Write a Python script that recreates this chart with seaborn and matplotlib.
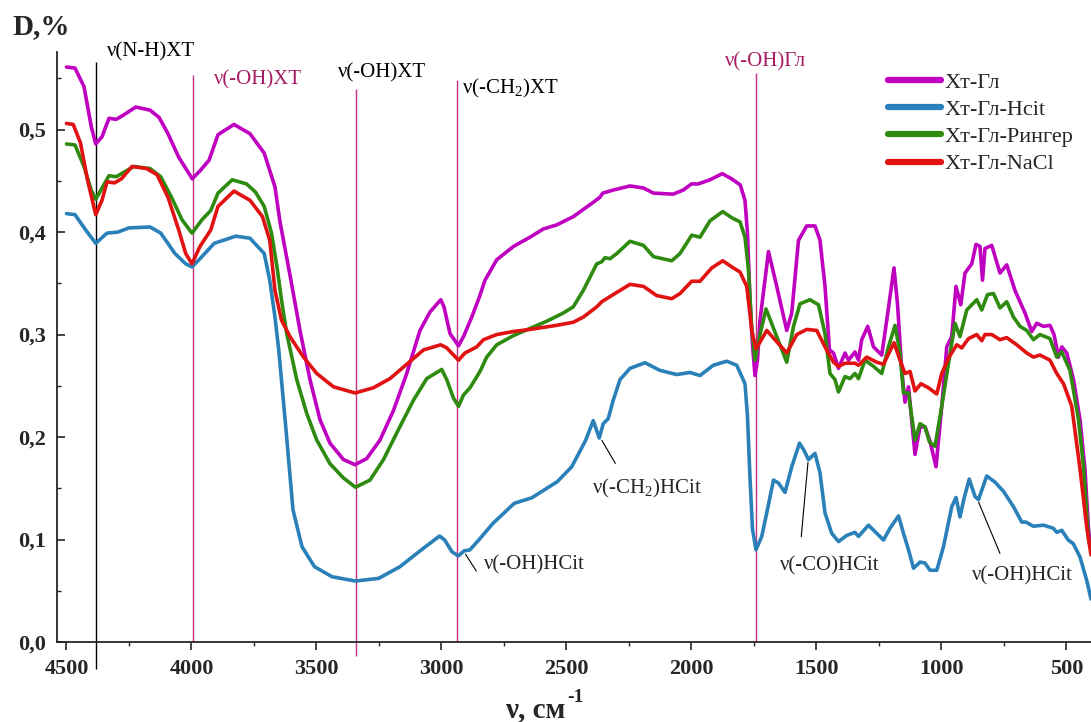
import matplotlib
matplotlib.use('Agg')
import matplotlib.pyplot as plt
import seaborn as sns
import pandas as pd


# Хт-Гл (magenta)
gl_nu = [4500, 4466, 4430, 4401, 4383, 4358, 4330, 4301, 4273, 4223, 4166, 4130, 4094, 4051, 3997,
         3965, 3930, 3894, 3830, 3766, 3709, 3666, 3646, 3606, 3566, 3526, 3486, 3446, 3392, 3346,
         3299, 3246, 3192, 3139, 3086, 3046, 3003, 2990, 2966, 2932, 2912, 2879, 2848, 2826, 2779,
         2712, 2646, 2593, 2539, 2473, 2393, 2366, 2355, 2313, 2246, 2192, 2152, 2073, 2033, 2000,
         1973, 1926, 1877, 1840, 1805, 1786, 1776, 1766, 1756, 1746, 1736, 1726, 1692, 1659, 1619,
         1599, 1572, 1539, 1506, 1486, 1466, 1448, 1432, 1412, 1386, 1372, 1346, 1332, 1319, 1295,
         1272, 1239, 1219, 1190, 1176, 1159, 1146, 1132, 1106, 1086, 1066, 1046, 1022, 999, 979,
         959, 942, 923, 906, 879, 862, 846, 836, 826, 799, 766, 739, 706, 686, 666, 639, 619, 592,
         566, 550, 532, 519, 499, 472, 446, 426, 412, 402]
gl_d = [0.561, 0.560, 0.542, 0.503, 0.486, 0.493, 0.511, 0.510, 0.514, 0.522, 0.519, 0.512, 0.496,
        0.473, 0.452, 0.460, 0.470, 0.495, 0.505, 0.496, 0.477, 0.444, 0.410, 0.358, 0.304, 0.256,
        0.217, 0.194, 0.178, 0.173, 0.179, 0.197, 0.226, 0.262, 0.304, 0.322, 0.334, 0.327, 0.301,
        0.289, 0.298, 0.317, 0.337, 0.353, 0.373, 0.386, 0.395, 0.403, 0.407, 0.415, 0.429, 0.434,
        0.438, 0.441, 0.445, 0.443, 0.438, 0.437, 0.441, 0.447, 0.447, 0.451, 0.457, 0.452, 0.446,
        0.431, 0.399, 0.334, 0.290, 0.260, 0.275, 0.314, 0.381, 0.347, 0.304, 0.321, 0.392, 0.406,
        0.406, 0.392, 0.347, 0.285, 0.282, 0.267, 0.282, 0.275, 0.283, 0.275, 0.295, 0.308, 0.288,
        0.280, 0.314, 0.365, 0.330, 0.265, 0.234, 0.249, 0.183, 0.210, 0.210, 0.196, 0.171, 0.230,
        0.288, 0.298, 0.347, 0.329, 0.360, 0.369, 0.388, 0.386, 0.353, 0.384, 0.387, 0.360, 0.368,
        0.343, 0.332, 0.321, 0.303, 0.311, 0.308, 0.309, 0.300, 0.278, 0.288, 0.282, 0.256, 0.217,
        0.168, 0.110, 0.090]

# Хт-Гл-Hcit (blue)
hcit_nu = [4500, 4466, 4423, 4383, 4338, 4294, 4251, 4166, 4123, 4066, 4023, 3998, 3966, 3909, 3823,
           3766, 3709, 3687, 3666, 3651, 3623, 3594, 3558, 3508, 3438, 3344, 3251, 3166, 3080, 3008,
           2987, 2958, 2933, 2909, 2887, 2851, 2794, 2709, 2638, 2537, 2479, 2423, 2393, 2369, 2353,
           2333, 2313, 2286, 2246, 2186, 2126, 2059, 2006, 1966, 1913, 1859, 1819, 1786, 1776, 1766,
           1756, 1742, 1719, 1699, 1672, 1652, 1626, 1599, 1568, 1550, 1532, 1506, 1486, 1466, 1439,
           1412, 1379, 1346, 1332, 1292, 1259, 1232, 1206, 1172, 1152, 1132, 1112, 1086, 1066, 1046,
           1019, 992, 959, 942, 926, 910, 889, 866, 852, 819, 786, 752, 712, 679, 662, 633, 592, 553,
           539, 519, 493, 473, 446, 419, 402]
hcit_d = [0.418, 0.417, 0.402, 0.389, 0.399, 0.400, 0.404, 0.405, 0.399, 0.379, 0.369, 0.366, 0.374,
          0.389, 0.396, 0.394, 0.379, 0.353, 0.317, 0.285, 0.210, 0.129, 0.093, 0.0735, 0.0637,
          0.0595, 0.0621, 0.0735, 0.090, 0.1034, 0.0995, 0.088, 0.084, 0.089, 0.0898, 0.0995, 0.1158,
          0.1353, 0.1408, 0.1564, 0.171, 0.197, 0.216, 0.199, 0.213, 0.218, 0.236, 0.256, 0.267,
          0.2725, 0.265, 0.261, 0.263, 0.260, 0.270, 0.274, 0.270, 0.252, 0.220, 0.160, 0.110, 0.090,
          0.103, 0.126, 0.158, 0.155, 0.146, 0.171, 0.194, 0.187, 0.178, 0.184, 0.165, 0.126, 0.106,
          0.098, 0.104, 0.107, 0.103, 0.114, 0.106, 0.0995, 0.111, 0.123, 0.106, 0.090, 0.072, 0.078,
          0.077, 0.070, 0.070, 0.093, 0.132, 0.141, 0.122, 0.140, 0.159, 0.142, 0.139, 0.162, 0.156,
          0.147, 0.132, 0.117, 0.117, 0.113, 0.114, 0.111, 0.107, 0.109, 0.0995, 0.096, 0.083, 0.060,
          0.042]

# Хт-Гл-Рингер (green)
ring_nu = [4500, 4466, 4430, 4401, 4383, 4351, 4330, 4301, 4273, 4230, 4166, 4123, 4080, 4038, 3998,
           3958, 3923, 3894, 3837, 3780, 3744, 3709, 3680, 3658, 3640, 3619, 3579, 3539, 3499, 3446,
           3392, 3344, 3286, 3232, 3179, 3112, 3059, 2999, 2979, 2952, 2932, 2912, 2886, 2846, 2819,
           2779, 2712, 2646, 2579, 2513, 2473, 2433, 2379, 2359, 2346, 2326, 2299, 2246, 2192, 2152,
           2079, 2046, 1999, 1966, 1926, 1875, 1839, 1806, 1786, 1772, 1760, 1746, 1726, 1702, 1659,
           1619, 1592, 1566, 1526, 1492, 1466, 1446, 1426, 1412, 1386, 1366, 1346, 1332, 1306, 1272,
           1239, 1212, 1186, 1166, 1152, 1132, 1106, 1086, 1066, 1048, 1026, 999, 972, 946, 926, 899,
           859, 839, 816, 792, 766, 739, 712, 686, 659, 632, 606, 566, 539, 519, 486, 452, 432, 412,
           402]
ring_d = [0.486, 0.485, 0.464, 0.441, 0.432, 0.446, 0.455, 0.454, 0.458, 0.464, 0.462, 0.454, 0.434,
          0.412, 0.399, 0.412, 0.421, 0.438, 0.451, 0.447, 0.439, 0.425, 0.399, 0.366, 0.334, 0.301,
          0.256, 0.223, 0.197, 0.174, 0.160, 0.151, 0.158, 0.178, 0.204, 0.236, 0.257, 0.266, 0.256,
          0.238, 0.230, 0.241, 0.248, 0.264, 0.278, 0.290, 0.299, 0.306, 0.313, 0.321, 0.327, 0.343,
          0.369, 0.371, 0.375, 0.374, 0.379, 0.391, 0.387, 0.376, 0.372, 0.379, 0.397, 0.395, 0.411,
          0.420, 0.414, 0.410, 0.395, 0.363, 0.310, 0.275, 0.300, 0.325, 0.298, 0.273, 0.308, 0.330,
          0.334, 0.329, 0.301, 0.262, 0.256, 0.244, 0.259, 0.257, 0.262, 0.257, 0.275, 0.269, 0.262,
          0.288, 0.309, 0.282, 0.243, 0.243, 0.197, 0.213, 0.210, 0.195, 0.191, 0.230, 0.272, 0.311,
          0.298, 0.324, 0.334, 0.324, 0.339, 0.340, 0.326, 0.332, 0.317, 0.308, 0.304, 0.295, 0.300,
          0.296, 0.278, 0.283, 0.265, 0.217, 0.171, 0.100, 0.090]

# Хт-Гл-NaCl (red)
nacl_nu = [4500, 4473, 4444, 4416, 4383, 4358, 4338, 4308, 4280, 4238, 4180, 4138, 4094, 4051, 4023,
           3998, 3966, 3923, 3894, 3830, 3766, 3716, 3687, 3666, 3640, 3606, 3552, 3499, 3432, 3346,
           3273, 3206, 3139, 3072, 3003, 2979, 2932, 2906, 2859, 2832, 2779, 2712, 2646, 2539, 2473,
           2433, 2379, 2359, 2313, 2246, 2192, 2139, 2079, 2046, 1999, 1966, 1919, 1875, 1839, 1806,
           1779, 1766, 1759, 1742, 1699, 1659, 1619, 1579, 1539, 1499, 1466, 1432, 1412, 1386, 1346,
           1332, 1299, 1259, 1232, 1190, 1166, 1146, 1126, 1106, 1082, 1052, 1019, 999, 972, 939, 919,
           892, 859, 839, 826, 799, 766, 739, 699, 659, 632, 606, 566, 539, 512, 479, 446, 419, 402]
nacl_d = [0.506, 0.505, 0.487, 0.451, 0.417, 0.431, 0.449, 0.448, 0.452, 0.464, 0.462, 0.456, 0.434,
          0.402, 0.379, 0.369, 0.386, 0.402, 0.425, 0.440, 0.431, 0.415, 0.392, 0.343, 0.314, 0.298,
          0.278, 0.262, 0.249, 0.243, 0.248, 0.257, 0.271, 0.285, 0.290, 0.287, 0.275, 0.282, 0.288,
          0.295, 0.300, 0.303, 0.305, 0.309, 0.312, 0.317, 0.327, 0.332, 0.339, 0.349, 0.347, 0.338,
          0.335, 0.340, 0.352, 0.352, 0.365, 0.372, 0.366, 0.361, 0.347, 0.320, 0.304, 0.286, 0.304,
          0.293, 0.282, 0.300, 0.305, 0.304, 0.288, 0.273, 0.269, 0.272, 0.272, 0.270, 0.278, 0.273,
          0.271, 0.292, 0.275, 0.262, 0.264, 0.245, 0.252, 0.248, 0.242, 0.262, 0.277, 0.290, 0.287,
          0.296, 0.300, 0.294, 0.300, 0.300, 0.295, 0.297, 0.290, 0.282, 0.278, 0.280, 0.275, 0.262,
          0.252, 0.230, 0.169, 0.112, 0.085]

series_names = ['Хт-Гл', 'Хт-Гл-Hcit', 'Хт-Гл-Рингер', 'Хт-Гл-NaCl']
series_colors = ['#c000c0', '#2a80b9', '#2e8b10', '#e01212']

# band markers: wavenumber, top, bottom, colour
band_nu = [4380, 3995, 3343, 2938, 1740]
band_top = [0.566, 0.553, 0.540, 0.548, 0.555]
band_bottom = [-0.026, 0.0, -0.014, 0.0, 0.0]
band_colors = ['black', '#c2307f', '#c2307f', '#c2307f', '#c2307f']

frames = []
for name, nu, d in zip(series_names,
                       [gl_nu, hcit_nu, ring_nu, nacl_nu],
                       [gl_d, hcit_d, ring_d, nacl_d]):
    frames.append(pd.DataFrame({'nu': nu, 'D': d, 'sample': name}))
df = pd.concat(frames, ignore_index=True)

sns.set_style('ticks')
plt.rcParams['font.family'] = ['Liberation Serif', 'DejaVu Serif']
plt.rcParams['mathtext.fontset'] = 'custom'
plt.rcParams['mathtext.rm'] = 'Liberation Serif'
plt.rcParams['mathtext.it'] = 'Liberation Serif:italic'
plt.rcParams['mathtext.bf'] = 'Liberation Serif:bold'

fig = plt.figure(figsize=(10.91, 7.22), dpi=100)
ax = fig.add_axes([0.052, 0.1108, 0.948, 0.8176])

sns.lineplot(data=df, x='nu', y='D', hue='sample', hue_order=series_names,
             palette=series_colors, estimator=None, linewidth=2.6, ax=ax)

for nu, top, bot, c in zip(band_nu, band_top, band_bottom, band_colors):
    ax.vlines(nu, bot, top, color=c, lw=1.0, clip_on=False, zorder=1)

ax.set_xlim(4539, 402)
ax.set_ylim(0, 0.576)
ax.spines['top'].set_visible(False)
ax.spines['right'].set_visible(False)
ax.spines['left'].set_linewidth(1.3)
ax.spines['bottom'].set_linewidth(1.3)

ax.set_xticks([4500, 4000, 3500, 3000, 2500, 2000, 1500, 1000, 500])
ax.set_xticks([4250, 3750, 3250, 2750, 2250, 1750, 1250, 750], minor=True)
ax.set_yticks([0.0, 0.1, 0.2, 0.3, 0.4, 0.5])
ax.set_yticks([0.05, 0.15, 0.25, 0.35, 0.45, 0.55], minor=True)
ax.set_yticklabels([f'{v:.1f}'.replace('.', ',') for v in ax.get_yticks()])
ax.tick_params(axis='x', which='major', direction='out', length=6, width=1.2, pad=6,
               labelsize=16)
ax.tick_params(axis='x', which='minor', direction='out', length=3, width=1.0)
ax.tick_params(axis='y', which='major', direction='in', length=6, width=1.2, pad=8,
               labelsize=16)
ax.tick_params(axis='y', which='minor', direction='in', length=3, width=1.0)
for lab in ax.get_xticklabels() + ax.get_yticklabels():
    lab.set_fontweight('bold')
ax.set_xlabel('')
ax.set_ylabel('')

# band labels
ax.text(4338, 0.576, 'ν(N-H)XT', fontsize=15, va='center', ha='left', color='black')
ax.text(3909, 0.549, 'ν(-OH)XT', fontsize=15, va='center', ha='left', color='#a51d62')
ax.text(3416, 0.555, 'ν(-OH)XT', fontsize=15, va='center', ha='left', color='black')
ax.text(2916, 0.540, 'ν(-CH$_2$)XT', fontsize=15, va='center', ha='left', color='black')
ax.text(1866, 0.566, 'ν(-OH)Гл', fontsize=15, va='center', ha='left', color='#a51d62')

# Hcit labels with leader lines
notes = [('ν(-OH)HCit', (2910, 0.088), (2855, 0.067), (2830, 0.075)),
         ('ν(-CH$_2$)HCit', (2364, 0.199), (2299, 0.172), (2397, 0.150)),
         ('ν(-CO)HCit', (1533, 0.178), (1562, 0.100), (1646, 0.0745)),
         ('ν(-OH)HCit', (856, 0.139), (762, 0.084), (879, 0.065))]
for txt, p0, p1, pt in notes:
    ax.annotate('', xy=p0, xytext=p1, arrowprops=dict(arrowstyle='-', lw=0.8, color='black'))
    ax.text(pt[0], pt[1], txt, fontsize=15, va='center', ha='left')

leg = ax.legend(loc='upper left', bbox_to_anchor=(0.814, 0.900),
                bbox_transform=fig.transFigure, frameon=False, fontsize=16,
                handlelength=2.4, handletextpad=0.15, labelspacing=0.30,
                borderpad=0, borderaxespad=0)
for h in leg.get_lines():
    h.set_linewidth(4.5)
    h.set_solid_capstyle('round')

fig.text(12 / 1091, 1 - 27 / 722, 'D,%', fontsize=21, fontweight='bold', va='center', ha='left')
fig.text(505 / 1091, 1 - 710 / 722, 'ν, см', fontsize=21, fontweight='bold', va='center', ha='left')
fig.text(567 / 1091, 1 - 697 / 722, '-1', fontsize=14, fontweight='bold', va='center', ha='left')

fig.savefig('out.png', dpi=100)
